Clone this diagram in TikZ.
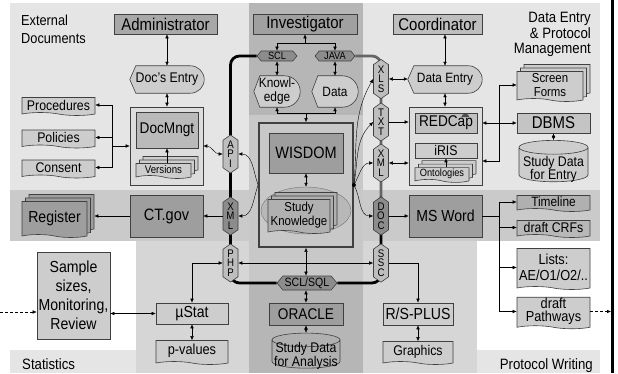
\documentclass[tikz,border=0pt]{standalone}
\usepackage{fontspec}
\setmainfont{Liberation Sans}[FakeStretch=0.88]
\usepackage{tikz}
\usetikzlibrary{arrows.meta,calc,shapes.symbols,shapes.geometric,shadows}

\definecolor{bgl}{HTML}{E5E5E5}
\definecolor{bgbot}{HTML}{D6D6D6}
\definecolor{band}{HTML}{CACACA}
\definecolor{colm}{HTML}{B6B6B6}
\definecolor{coli}{HTML}{C8C8C8}
\definecolor{fdk}{HTML}{9E9E9E}
\definecolor{fmd}{HTML}{B0B0B0}
\definecolor{flt}{HTML}{CDCDCD}
\definecolor{fhx}{HTML}{8C8C8C}
\definecolor{hxl}{HTML}{BEBEBE}
\definecolor{fbox}{HTML}{DDDDDD}
\definecolor{fadm}{HTML}{A8A8A8}
\definecolor{finv}{HTML}{A0A0A0}
\definecolor{fcoo}{HTML}{BEBEBE}
\definecolor{fdm}{HTML}{BABABA}
\definecolor{frc}{HTML}{C0C0C0}
\definecolor{fdb}{HTML}{C4C4C4}
\definecolor{fsk}{HTML}{B8B8B8}

\pgfdeclarelayer{regions}
\pgfdeclarelayer{shapes}
\pgfsetlayers{regions,shapes,main}

\tikzset{
  fs/.style 2 args={font=\fontsize{#1}{#2}\selectfont},
  box/.style={draw=black!75, line width=0.6pt, inner sep=1pt, align=center},
  docu/.style={box, tape, tape bend top=none, tape bend bottom=out and in, tape bend height=3pt},
  mdoc/.style={docu, fill=#1,
    copy shadow={shadow xshift=7pt, shadow yshift=7pt, fill=#1, draw=black!75},
    copy shadow={shadow xshift=3.5pt, shadow yshift=3.5pt, fill=#1, draw=black!75}},
  hexh/.style={box, signal, signal to=east and west, signal pointer angle=100, inner sep=0.5pt, fill=#1},
  hexv/.style={box, signal, signal to=north and south, signal pointer angle=110, inner sep=0.5pt, fill=#1, fs={11}{9.5}},
  cyl/.style={box, cylinder, shape border rotate=90, aspect=0.2, fill=#1, inner sep=1pt, text depth=0pt},
  bus/.style={line width=2.8pt, rounded corners=9pt},
  dsh/.style={dash pattern=on 3pt off 2pt},
}

% display shape behind a named node
\newcommand\dispshape[2]{%
  \begin{pgfonlayer}{shapes}
  \filldraw[fill=#2, draw=black!75, line width=0.6pt]
    let \p1=(#1.north east), \p2=(#1.south east), \n1={(\y1-\y2)/2} in
    (#1.west) -- ([xshift=6pt]#1.north west) -- ([xshift=-\n1]#1.north east)
    arc[start angle=90, end angle=-90, radius=\n1]
    -- ([xshift=6pt]#1.south west) -- cycle;
  \end{pgfonlayer}}

\begin{document}
\begin{tikzpicture}[x=1pt,y=1pt,line width=0.6pt,>={Latex[length=4pt,width=3.5pt]}]
\useasboundingbox (0,0) rectangle (618,373);
\begin{pgfonlayer}{regions}
\fill[bgl] (10,0) rectangle (600,370);
\fill[bgbot] (136,0) rectangle (477,132);
\fill[white] (10,23) rectangle (136,132);
\fill[white] (477,23) rectangle (600,132);
\fill[band] (10,132) rectangle (600,183);
\fill[colm] (249,0) rectangle (363,370);
\fill[coli] (249,90) rectangle (363,258);
\end{pgfonlayer}
\draw[line width=3pt] (612.5,0) -- (612.5,373);

% labels
\node[fs={14.5}{18}, anchor=north west, align=left, inner sep=0] (extdoc) at (21,358) {External\\Documents};
\node[fs={15}{15.5}, anchor=north east, align=right, inner sep=0] (delabel) at (591,361) {Data Entry\\\& Protocol\\Management};
\node[fs={15}{15}, anchor=base west, inner sep=0] (statlabel) at (22,4) {Statistics};
\node[fs={15}{15}, anchor=base east, inner sep=0] (protlabel) at (593,4) {Protocol Writing};

% left column
\node[box, fill=fadm, fs={17}{19}, minimum width=103, minimum height=20] (admin) at (165.5,349) {Administrator};
\node[fs={14}{15}, minimum width=74, minimum height=27, inner sep=0] (docentry) at (167,293.5) {Doc's Entry};
\dispshape{docentry}{flt}
\node[box, fill=fbox, minimum width=73, minimum height=78] (docbox) at (166.5,227) {};
\node[box, fill=fdm, fs={15.5}{17}, minimum width=62, minimum height=36] (docmngt) at (167,243) {DocMngt};
\node[mdoc=flt, fs={11}{12}, minimum width=55, minimum height=15] (versions) at (163.5,203.5) {Versions};
\draw[<->] (docentry.north) -- (docentry.north |- admin.south);
\draw[<->] (docentry.south) -- (docentry.south |- docbox.north);
\draw[->] (versions.north -| docmngt) -- (docmngt.south);

\node[docu, fill=flt, fs={14}{15}, minimum width=73, minimum height=18] (proc) at (58.5,268) {Procedures};
\node[docu, fill=flt, fs={14}{15}, minimum width=73, minimum height=18] (polic) at (58.5,235.5) {Policies};
\node[docu, fill=flt, fs={14}{15}, minimum width=73, minimum height=18] (consent) at (58.5,205.5) {Consent};
\coordinate (split) at (112,227);
\draw[->] (split) |- (proc.east);
\draw[->] (split) |- (polic.east);
\draw[->] (split) |- (consent.east);
\draw[->] (split) -- (docbox.west);

\node[mdoc=fdk, fs={16}{17}, minimum width=65, minimum height=36] (register) at (54.5,155) {Register};
\node[box, fill=fdk, fs={16.5}{18}, minimum width=73, minimum height=42] (ctgov) at (166.5,157) {CT.gov};
\draw[->] (ctgov.west) -- ($(ctgov.west -| register.east)+(7,0)$);

% investigator column
\node[box, fill=finv, fs={17}{19}, minimum width=104, minimum height=20] (invest) at (305,349) {Investigator};
\node[hexh=fhx, fs={10.5}{11}, minimum width=40, minimum height=10] (scl) at (277,317) {SCL};
\node[hexh=fhx, fs={10.5}{11}, minimum width=40, minimum height=10] (java) at (335,317) {JAVA};
\draw[<->] (invest.south) -- ++(0,-9) -| (scl.north);
\draw[->] (invest.south) ++(0,-9) -| (java.north);
\node[fs={13.5}{14}, align=center, minimum width=46, minimum height=31, inner sep=0] (knowl) at (277,281.5) {Knowl-\\edge};
\dispshape{knowl}{flt}
\node[fs={13.5}{14}, minimum width=46, minimum height=31, inner sep=0] (data) at (335,281.5) {Data};
\dispshape{data}{flt}
\draw[<->] (scl.south) -- (knowl.north);
\draw[<->] (java.south) -- (data.north);

\node[box, line width=1.8pt, minimum width=94, minimum height=124] (wisbox) at (306,188) {};
\draw[<->] (knowl.south) -- ++(0,-6) -| (data.south);
\draw[->] (knowl.south) ++(0,-6) -| (wisbox.north);
\node[box, fill=fdk, fs={16.5}{18}, minimum width=74, minimum height=40] (wisdom) at (306,220) {WISDOM};
\node[ellipse, draw=black!55, fill=fsk, minimum width=90, minimum height=47] (skell) at (306,162.5) {};
\node[mdoc=fmd, fs={13}{13.5}, minimum width=62, minimum height=34] (sk) at (299,158) {Study\\Knowledge};
\draw[<->] (wisdom.south) -- (wisdom.south |- skell.north);

\node[hexh=fhx, fs={12}{12}, minimum width=60, minimum height=14] (sclsql) at (307,90) {SCL/SQL};
\node[box, fill=fdk, fs={15.5}{17}, minimum width=74, minimum height=22] (oracle) at (306,59) {ORACLE};
\node[cyl=fmd, text width=66pt, text height=14pt,
  label={[fs={14}{13.5}, align=center, yshift=-1pt]center:{Study Data\\for Analysis}}] (sda) at (306,18) {};
\draw[<->] (wisbox.south) -- (wisbox.south |- sclsql.north);
\draw[<->] (sclsql.south -| oracle) -- (oracle.north);
\draw[<->] (oracle.south) -- (sda.north);

% hexagon connectors
\node[hexv=hxl, minimum width=15, minimum height=32] (api) at (230.5,219) {A\\P\\I};
\node[hexv=fhx, minimum width=15, minimum height=32] (xmll) at (230.5,157) {X\\M\\L};
\node[hexv=hxl, minimum width=15, minimum height=32] (php) at (230.5,110) {P\\H\\P};
\node[hexv=hxl, minimum width=15, minimum height=34] (xls) at (381,294) {X\\L\\S};
\node[hexv=hxl, minimum width=15, minimum height=32] (txt) at (381,251) {T\\X\\T};
\node[hexv=hxl, minimum width=15, minimum height=32] (xmlr) at (381,210) {X\\M\\L};
\node[hexv=fhx, minimum width=15, minimum height=32] (doc) at (381,157) {D\\O\\C};
\node[hexv=hxl, minimum width=15, minimum height=32] (ssc) at (381,110) {S\\S\\C};
\begin{pgfonlayer}{shapes}
\draw[bus] (scl.west) -| (php.south |- sclsql.west) -- (sclsql.west);
\draw[bus, black!60] (java.east) -| (doc.north);
\draw[bus] (doc.north) -- (ssc.south |- sclsql.east) -- (sclsql.east);
\end{pgfonlayer}

\draw[<->] (docbox.east) to[out=0,in=180] (api.west);
\draw[->] (xmll.west) -- (ctgov.east);
\draw[->] (wisbox.west) to[out=110,in=0] (api.east);
\draw[->] (wisbox.west) to[out=-110,in=0] (xmll.east);
\fill (wisbox.east) circle (2pt);
\draw[->] (wisbox.east) to[out=85,in=-120] (xls.west);
\draw[->] (wisbox.east) to[out=80,in=-135] (txt.west);
\draw[->] (wisbox.east) to[out=60,in=180] (xmlr.west);
\draw[->] (wisbox.east) to[out=-60,in=180] (doc.west);

% statistics
\node[box, fill=flt, fs={16}{19}, minimum width=73, minimum height=87] (sample) at (73.5,77.5) {Sample\\sizes,\\Monitoring,\\Review};
\node[box, fill=flt, fs={16}{17}, minimum width=72, minimum height=21] (mustat) at (192,59.5) {µStat};
\node[docu, fill=flt, fs={14.5}{15}, minimum width=72, minimum height=24] (pvalues) at (192,22) {p-values};
\node[box, fill=flt, fs={16}{17}, minimum width=70, minimum height=22] (rsplus) at (418,59) {R/S-PLUS};
\node[docu, fill=flt, fs={14}{15}, minimum width=70, minimum height=23] (graphics) at (418,21.5) {Graphics};
\draw[<->] (php.east) -- (ssc.west);
\draw[<->] (php.west) -| (mustat.north);
\draw[->] (ssc.east) -| (rsplus.north);
\draw[<->] (mustat.south) -- (pvalues.north);
\draw[<->] (rsplus.south) -- (graphics.north);
\draw[<->] (sample.east |- mustat.west) -- (mustat.west);
\coordinate (leftin) at (0,61);
\draw[->, dsh] (leftin) -- (leftin -| sample.west);

% coordinator column
\node[box, fill=fcoo, fs={17}{19}, minimum width=89, minimum height=20] (coord) at (437.5,349) {Coordinator};
\node[fs={13.5}{14}, minimum width=74, minimum height=27, inner sep=0] (dataentry) at (445,293.5) {Data Entry};
\dispshape{dataentry}{flt}
\draw[<->] (coord.south -| dataentry) -- (dataentry.north);
\draw[<->] (xls.east) -- (xls.east -| dataentry.west);
\node[box, fill=fbox, minimum width=73, minimum height=78] (redbox) at (445.5,227) {};
\draw[<->] (dataentry.south) -- (dataentry.south |- redbox.north);
\node[box, fill=frc, fs={15.5}{17}, minimum width=62, minimum height=20] (redcap) at (446,250) {REDCap};
\fill[black!70] ([xshift=-16pt,yshift=-4.5pt]redcap.north east) arc[start angle=180, end angle=0, x radius=4pt, y radius=3.5pt];
\node[box, fill=flt, fs={14}{15}, minimum width=62, minimum height=15] (iris) at (446,222.5) {iRIS};
\node[mdoc=flt, fs={10.5}{11}, minimum width=54, minimum height=13] (onto) at (442,199.5) {Ontologies};
\draw[->] (onto.north -| iris) -- (iris.south);
\draw[->] (txt.east) -- (txt.east -| redbox.west);
\draw[<->] (xmlr.east) -- (xmlr.east -| redbox.west);

\node[box, fill=fdb, fs={17}{18}, minimum width=73, minimum height=20] (dbms) at (553.5,250) {DBMS};
\node[mdoc=flt, fs={13}{14}, minimum width=66, minimum height=30] (screen) at (550,288) {Screen\\Forms};
\node[cyl=flt, text width=67pt, text height=20pt,
  label={[fs={14}{13.5}, align=center, yshift=-4pt]center:{Study Data\\for Entry}}] (sde) at (553.5,207.5) {};
\draw[<->] (redbox.east |- redcap) -- (dbms.west);
\coordinate (jr) at (499,250);
\draw[->] (jr) |- (screen.west);
\draw[->] (jr) |- ($(redbox.east)+(0,-15)$);
\draw[<->] (dbms.south) -- (sde.north);

% protocol writing
\node[box, fill=fdk, fs={16}{17}, minimum width=73, minimum height=42] (msword) at (445.5,157) {MS Word};
\draw[->] (doc.east) -- (doc.east -| msword.west);
\node[docu, fill=fmd, fs={13.5}{14}, minimum width=73, minimum height=16] (timeline) at (553.5,171) {Timeline};
\node[docu, fill=fsk, fs={14}{15}, minimum width=73, minimum height=17] (crfs) at (553.5,145.5) {draft CRFs};
\node[docu, fill=flt, fs={14.5}{16}, minimum width=73, minimum height=41] (lists) at (553.5,105.5) {Lists:\\AE/O1/O2/..};
\node[docu, fill=flt, fs={14.5}{13}, minimum width=73, minimum height=27] (pathways) at (553.5,61.5) {draft\\Pathways};
\coordinate (jm) at (499,157);
\draw (msword.east) -- (jm);
\draw[->] (jm) |- (timeline.west);
\draw[->] (jm) |- (crfs.west);
\draw[->] (jm) |- (lists.west);
\draw[->] (jm) |- (pathways.west);
\coordinate (edge) at (611,61.5);
\draw[->, dsh] (pathways.east) -- (edge);
\end{tikzpicture}
\end{document}
